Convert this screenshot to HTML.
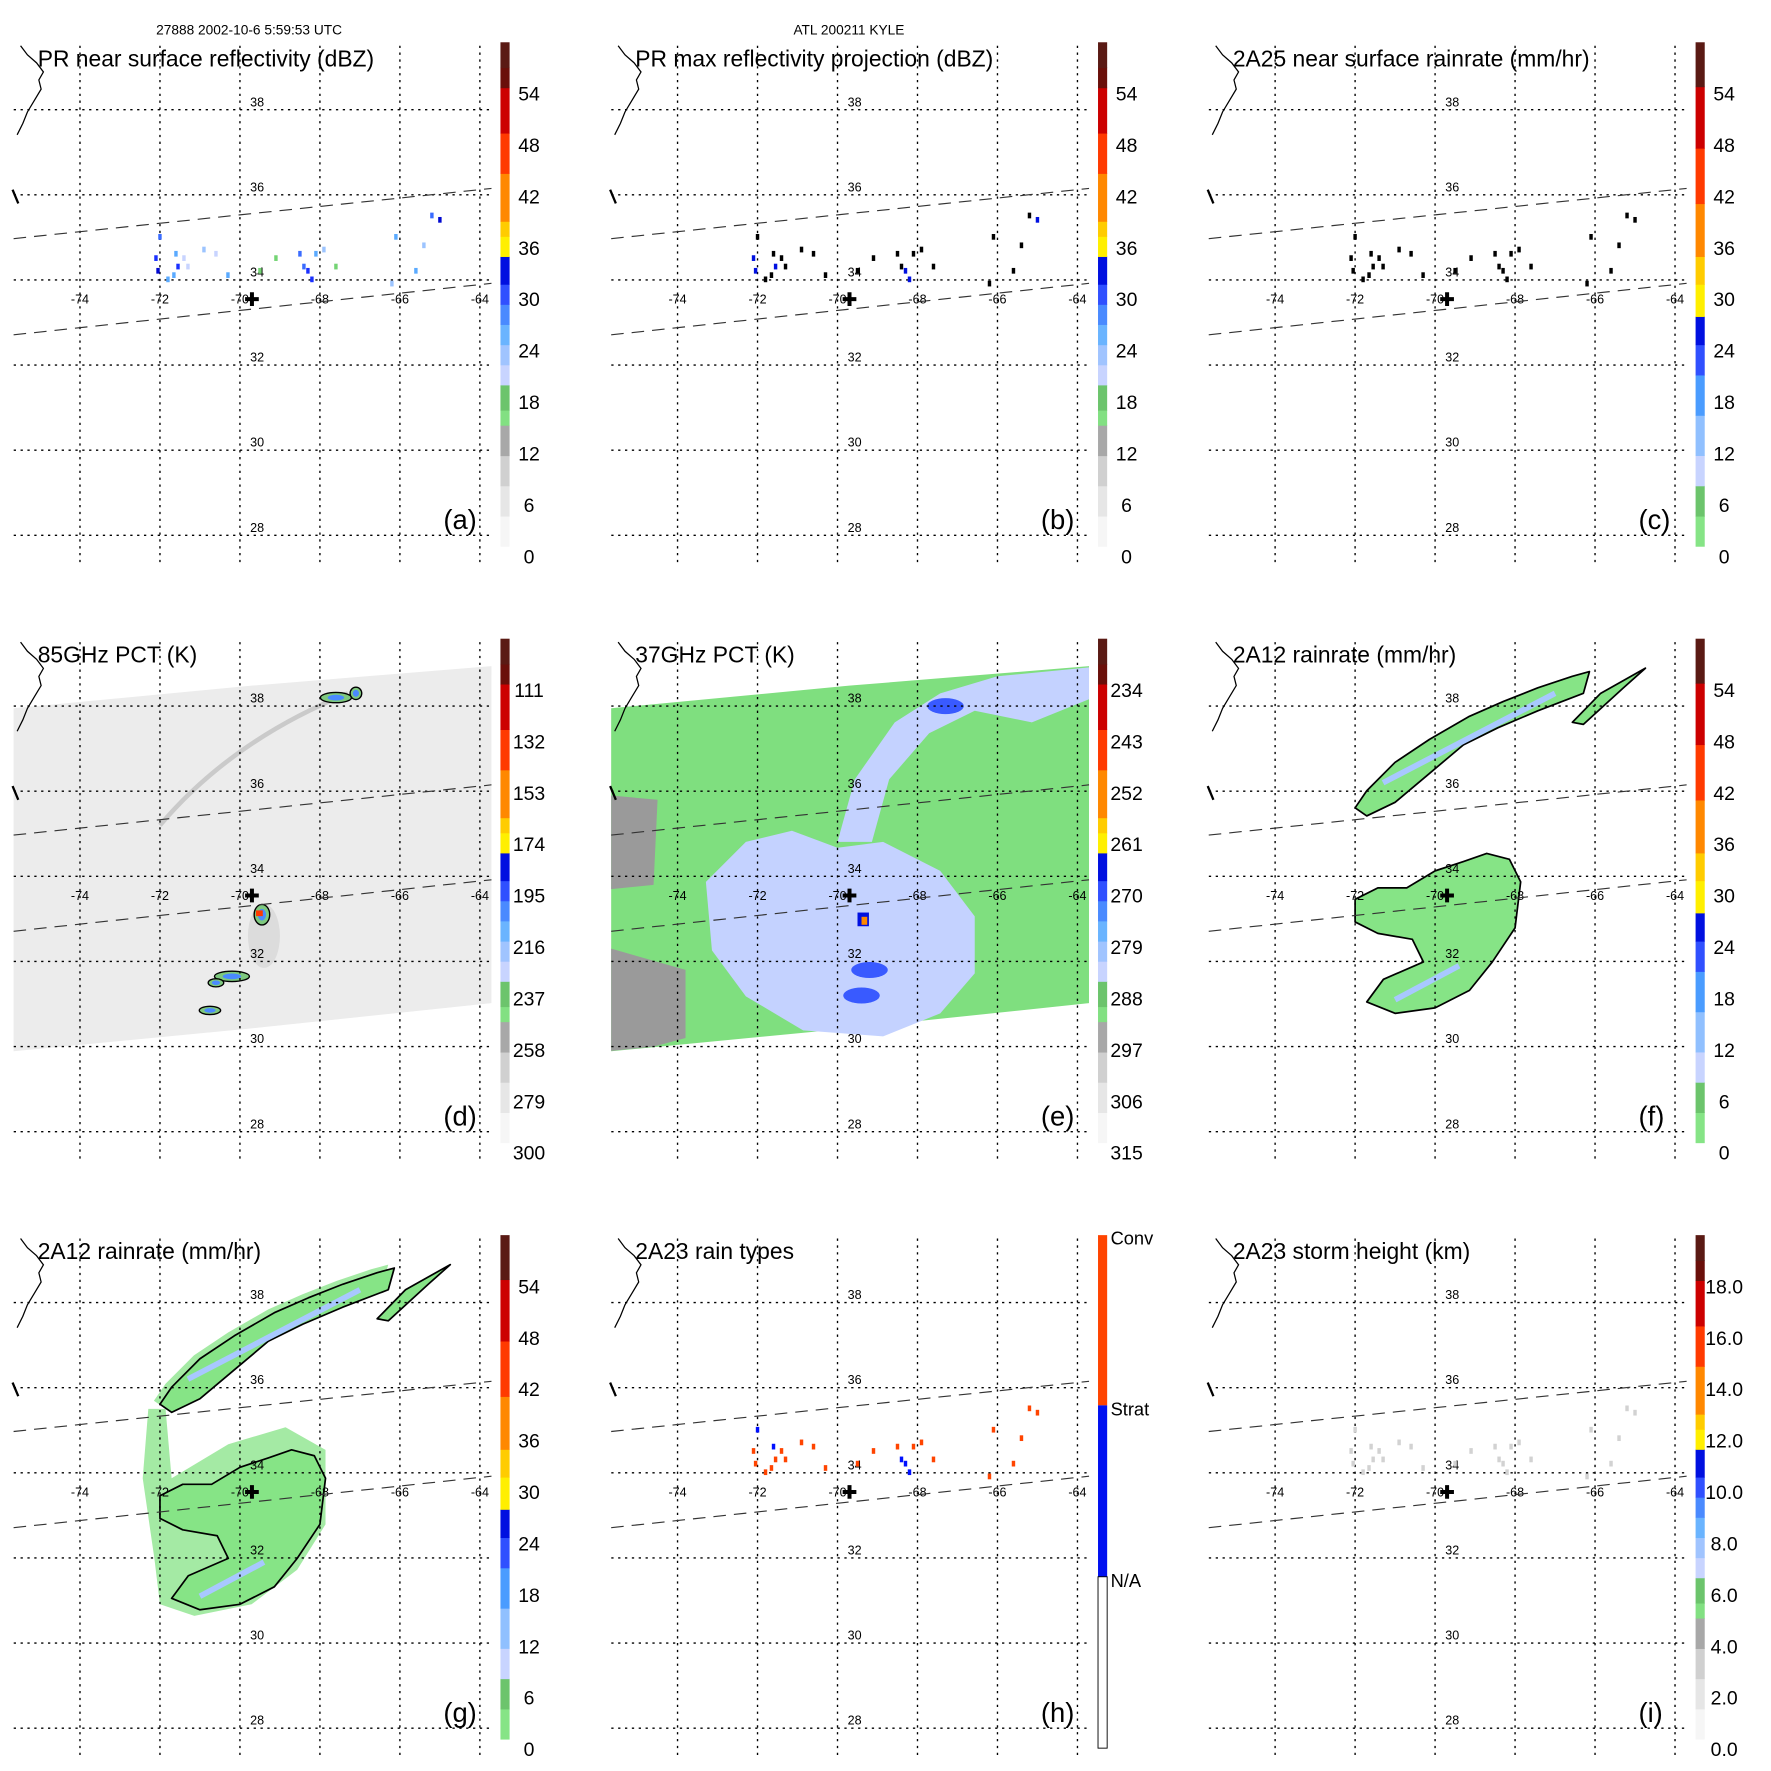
<!DOCTYPE html>
<html><head><meta charset="utf-8"><style>
html,body{margin:0;padding:0;background:#fff;}
svg{display:block;font-family:"Liberation Sans",sans-serif;}
</style></head><body>
<svg id="fig" width="1771" height="1771" viewBox="0 0 1550 1550" xmlns="http://www.w3.org/2000/svg">
<text x="218" y="30" font-size="12" text-anchor="middle">27888 2002-10-6 5:59:53 UTC</text>
<text x="743" y="30" font-size="12" text-anchor="middle">ATL 200211 KYLE</text>
</svg>
<script>
const NS='http://www.w3.org/2000/svg';
const fig=document.getElementById('fig');
// ---- data ----
const lonTicks=[-74,-72,-70,-68,-66,-64];
const latTicks=[38,36,34,32,30,28];
const panelTitles=['PR near surface reflectivity (dBZ)','PR max reflectivity projection (dBZ)','2A25 near surface rainrate (mm/hr)','85GHz PCT (K)','37GHz PCT (K)','2A12 rainrate (mm/hr)','2A12 rainrate (mm/hr)','2A23 rain types','2A23 storm height (km)'];
const panelLetters=['(a)','(b)','(c)','(d)','(e)','(f)','(g)','(h)','(i)'];
const cbLabelsA=['54','48','42','36','30','24','18','12','6','0'];
const cbLabelsC=['54','48','42','36','30','24','18','12','6','0'];
const cbLabelsD=['111','132','153','174','195','216','237','258','279','300'];
const cbLabelsE=['234','243','252','261','270','279','288','297','306','315'];
const cbLabelsI=['18.0','16.0','14.0','12.0','10.0','8.0','6.0','4.0','2.0','0.0'];
const cbLabelsH=['Conv','Strat','N/A'];
const stormCenter=[-69.7,33.55];
const swathUpperLon=[-75.66,-63.71], swathUpperLat=[34.97,36.15];
const swathLowerLon=[-75.66,-63.71], swathLowerLat=[32.71,33.92];
const wideSwathLon=[-75.66,-69.71,-63.71,-63.71,-69.71,-75.66];
const wideSwathLat=[37.95,38.48,38.94,31.02,30.43,29.89];
// PR rain pixels: lon, lat, dBZ
const prLon=[-72.0,-72.1,-72.05,-71.6,-71.55,-71.65,-71.4,-71.3,-71.8,-70.9,-70.6,-69.1,-68.4,-68.3,-68.2,-68.1,-68.5,-67.9,-67.6,-66.1,-65.6,-65.2,-65.0,-65.4,-66.2,-70.3,-69.5];
const prLat=[35.0,34.5,34.2,34.6,34.3,34.1,34.5,34.3,34.0,34.7,34.6,34.5,34.3,34.2,34.0,34.6,34.6,34.7,34.3,35.0,34.2,35.5,35.4,34.8,33.9,34.1,34.2];
const prVal=[27,30,33,26,31,24,20,18,25,22,20,16,28,32,30,25,27,22,17,24,26,29,34,22,21,24,17];
const prType=[1,2,2,1,2,2,2,2,2,2,2,2,1,1,1,2,2,2,2,2,2,2,2,2,2,2,2];
// 2A12 rain bands (lon/lat polygons)
const bandNLon=[-72.0,-71.71,-71.0,-70.14,-69.14,-68.29,-67.43,-66.57,-66.14,-66.29,-67.43,-68.43,-69.29,-70.14,-71.0,-71.71];
const bandNLat=[35.61,36.01,36.68,37.22,37.76,38.11,38.43,38.70,38.81,38.30,37.89,37.49,37.09,36.42,35.74,35.42];
const bandNELon=[-66.57,-65.86,-64.74,-65.29,-66.29];
const bandNELat=[37.62,38.30,38.89,38.43,37.57];
const blobSLon=[-72.0,-71.43,-70.71,-70.0,-69.29,-68.71,-68.14,-67.86,-68.0,-68.57,-69.14,-70.0,-71.0,-71.71,-71.29,-70.29,-70.57,-71.43,-72.0];
const blobSLat=[33.46,33.73,33.73,34.13,34.35,34.54,34.40,33.87,32.79,31.99,31.32,30.91,30.78,31.05,31.58,31.99,32.52,32.66,32.93];
// light-rain halo for 2A12 (g)
const haloLon=[-72.29,-71.86,-71.71,-70.29,-68.86,-67.86,-67.86,-68.57,-69.71,-71.14,-72.0,-72.14,-72.43];
const haloLat=[35.5,35.5,33.87,34.67,35.07,34.54,32.79,31.72,30.91,30.64,30.91,31.99,33.87];
// 37GHz depressed region
const pctBlobLon=[-73.29,-72.29,-71.14,-70.0,-68.86,-67.43,-66.57,-66.57,-67.43,-68.86,-70.86,-72.29,-73.14];
const pctBlobLat=[33.87,34.81,35.07,34.67,34.81,34.13,33.06,31.72,30.78,30.24,30.38,31.18,32.26];
const pctArmLon=[-70.0,-69.57,-68.57,-67.43,-66.0,-63.71,-63.71,-65.14,-66.57,-67.71,-68.71,-69.14];
const pctArmLat=[34.81,36.28,37.62,38.30,38.70,38.91,38.16,37.62,37.89,37.36,36.28,34.81];
const pctDarkLon=[-69.4,-67.3,-69.2], pctDarkLat=[31.2,38.0,31.8];
const pctGrayLon=[-75.66,-73.8,-73.8,-74.6,-75.66], pctGrayLat=[32.3,31.8,30.2,30.0,29.9];
const pctGray2Lon=[-75.66,-74.5,-74.6,-75.66], pctGray2Lat=[35.9,35.8,33.8,33.7];
// 85GHz scattering cells
const iceLon=[-69.45,-67.6,-67.1,-70.2,-70.6,-70.75], iceLat=[33.1,38.2,38.3,31.65,31.5,30.85], iceW=[0.4,0.8,0.3,0.9,0.4,0.55], iceH=[0.5,0.25,0.3,0.25,0.2,0.2];
// ---- helpers ----
const col=[0,523,1046], row=[0,522,1044];
function lonX(p,lon){return col[p%3]+70+(lon+74)*35;}
function latY(p,lat){return row[Math.floor(p/3)]+96+(38-lat)*37.25;}
function mk(tag,attrs,parent){const e=document.createElementNS(NS,tag);for(const k in attrs)e.setAttribute(k,attrs[k]);(parent||fig).appendChild(e);return e;}
function poly(p,lons,lats,fill,stroke,name,g){const pts=lons.map((l,i)=>lonX(p,l).toFixed(1)+','+latY(p,lats[i]).toFixed(1)).join(' ');
 const e=mk('polygon',{points:pts,fill:fill,stroke:stroke||'none','stroke-width':1.5,'stroke-linejoin':'round'},g);
 
 return e;}
function dbzColor(v){if(v<12)return '#bbb';if(v<18)return '#74d474';if(v<21)return '#c8d4ff';if(v<24)return '#9cc4ff';if(v<27)return '#5aaaff';if(v<30)return '#3a6cff';if(v<33)return '#1a30ff';if(v<36)return '#0008d0';if(v<42)return '#ffe000';return '#ff8000';}
const stdSegs=[[0,0.06,'#f6f6f6'],[0.06,0.12,'#e6e6e6'],[0.12,0.18,'#d0d0d0'],[0.18,0.24,'#a8a8a8'],[0.24,0.27,'#82e082'],[0.27,0.32,'#6cc46c'],[0.32,0.36,'#c8d4ff'],[0.36,0.40,'#a0c4ff'],[0.40,0.44,'#6ab4ff'],[0.44,0.48,'#4a8aff'],[0.48,0.52,'#3050ff'],[0.52,0.575,'#0010e0'],[0.575,0.615,'#ffef00'],[0.615,0.645,'#ffcc00'],[0.645,0.74,'#ff8800'],[0.74,0.82,'#ff3a00'],[0.82,0.91,'#cc0000'],[0.91,0.95,'#6a0f0a'],[0.95,1,'#5a1a14']];
const rainSegs=[[0,0.06,'#86e486'],[0.06,0.12,'#6cc46c'],[0.12,0.18,'#c8d4ff'],[0.18,0.26,'#90c0ff'],[0.26,0.34,'#4a9cff'],[0.34,0.40,'#3050ff'],[0.40,0.456,'#0010e0'],[0.456,0.52,'#ffef00'],[0.52,0.575,'#ffcc00'],[0.575,0.68,'#ff8800'],[0.68,0.79,'#ff3a00'],[0.79,0.912,'#cc0000'],[0.912,1,'#5a1a14']];
function colorbar(p,segs,labels){
 const g=mk('g',{});
 
 
 const x0=col[p%3]+438,y0=row[Math.floor(p/3)]+37,h=441;
 if(p===7){
  mk('rect',{x:x0,y:y0,width:8,height:149,fill:'#ff4400'},g);
  mk('rect',{x:x0,y:y0+149,width:8,height:150,fill:'#0010f0'},g);
  mk('rect',{x:x0,y:y0+299,width:8,height:150,fill:'#fff',stroke:'#000','stroke-width':0.8},g);
  labels.forEach((t,i)=>{const e=mk('text',{x:x0+11,y:y0+8+150*i,'font-size':16},g);e.textContent=t;
   
   });
  return;}
 segs.forEach(s=>mk('rect',{x:x0,y:(y0+h-s[1]*h).toFixed(1),width:8,height:((s[1]-s[0])*h+0.5).toFixed(1),fill:s[2]},g));
 labels.forEach((t,i)=>{const e=mk('text',{x:x0+25,y:y0+51+45*i,'font-size':17,'text-anchor':'middle'},g);e.textContent=t;
  
  });
}
function scatter(p,colorFn,name){
 const g=mk('g',{});
 
 
 prLon.forEach((l,i)=>{const c=colorFn(i);if(!c)return;
  const r=mk('rect',{x:(lonX(p,l)-1.5).toFixed(1),y:(latY(p,prLat[i])-3).toFixed(1),width:3,height:5,fill:c},g);
  
  });
}
for(let p=0;p<9;p++){
 const dx=col[p%3],dy=row[Math.floor(p/3)];
 const g=mk('g',{});
 
 
 if(p===3){poly(p,wideSwathLon,wideSwathLat,'#ececec','none','tb85-swath',g);
  const band=mk('path',{d:`M${lonX(p,-72)},${latY(p,35.2)} Q${lonX(p,-70.2)},${latY(p,37.2)} ${lonX(p,-67.3)},${latY(p,38.3)}`,stroke:'#cacaca','stroke-width':4,fill:'none'},g);
  
  
  const gl=mk('ellipse',{cx:lonX(p,-69.4),cy:latY(p,32.6),rx:14,ry:28,fill:'#dcdcdc'},g);
  
  
  iceLon.forEach((l,i)=>{const e=mk('ellipse',{cx:lonX(p,l),cy:latY(p,iceLat[i]),rx:iceW[i]*17,ry:iceH[i]*18,fill:'#7ec87e',stroke:'#000','stroke-width':1.2},g);
   
   
   mk('ellipse',{cx:lonX(p,l),cy:latY(p,iceLat[i]),rx:iceW[i]*9,ry:iceH[i]*10,fill:'#4a8aff'},g);});
  mk('rect',{x:lonX(p,-69.6),y:latY(p,33.2),width:6,height:5,fill:'#ff3a00'},g);}
 if(p===4){poly(p,wideSwathLon,wideSwathLat,'#7fdf7f','none','tb37-swath',g);
  poly(p,pctGrayLon,pctGrayLat,'#9a9a9a','none','warm-sea-region',g);
  poly(p,pctGray2Lon,pctGray2Lat,'#9a9a9a','none','warm-sea-region',g);
  poly(p,pctBlobLon,pctBlobLat,'#c4d2ff','none','rain-emission-region',g);
  poly(p,pctArmLon,pctArmLat,'#c4d2ff','none','rain-emission-arm',g);
  pctDarkLon.forEach((l,i)=>{const e=mk('ellipse',{cx:lonX(p,l),cy:latY(p,pctDarkLat[i]),rx:16,ry:7,fill:'#2a4cff',opacity:0.9},g);
   
   });
  mk('rect',{x:lonX(p,-69.5),y:latY(p,33.15),width:10,height:12,fill:'#0010e0'},g);
  mk('rect',{x:lonX(p,-69.4),y:latY(p,33.05),width:5,height:7,fill:'#ff8800'},g);}
 if(p===5||p===6){
  if(p===6){poly(p,haloLon,haloLat,'#a4eaa4','none','light-rain-halo',g);
   poly(p,bandNLon.map(v=>v-0.15),bandNLat.map(v=>v+0.08),'#a4eaa4','none','light-rain-halo',g);}
  poly(p,bandNLon,bandNLat,'#86e486','#000','rain-band-north',g);
  poly(p,bandNELon,bandNELat,'#86e486','#000','rain-band-northeast',g);
  poly(p,blobSLon,blobSLat,'#86e486','#000','rain-core-south',g);
  const e=mk('path',{d:`M${lonX(p,-71.3)},${latY(p,36.2)} L${lonX(p,-67.0)},${latY(p,38.3)}`,stroke:'#a8c8ff','stroke-width':5,fill:'none'},g);
  
  
  const e2=mk('path',{d:`M${lonX(p,-71.0)},${latY(p,31.1)} L${lonX(p,-69.4)},${latY(p,31.9)}`,stroke:'#a8c8ff','stroke-width':5,fill:'none'},g);
  
  }
 if(p===0)scatter(p,i=>dbzColor(prVal[i]),'pr-reflectivity-pixels');
 if(p===1)scatter(p,i=>prVal[i]>=30?'#0010e0':'#000','pr-max-pixels');
 if(p===2)scatter(p,i=>'#000','pr-rainrate-pixels');
 if(p===7)scatter(p,i=>prType[i]===1?'#0010ff':'#ff4400','rain-type-pixels');
 if(p===8)scatter(p,i=>'#d2d2d2','storm-height-pixels');
 latTicks.forEach(lat=>{const y=latY(p,lat);mk('line',{x1:dx+12,x2:dx+430,y1:y,y2:y,stroke:'#000','stroke-width':1.2,'stroke-dasharray':'2,4'},g);
  const t=mk('text',{x:lonX(p,-69.8)+8,y:y-3,'font-size':11,'text-anchor':'middle'},g);t.textContent=lat;
  
  });
 lonTicks.forEach(lon=>{const x=lonX(p,lon);mk('line',{x1:x,x2:x,y1:dy+40,y2:dy+492,stroke:'#000','stroke-width':1.2,'stroke-dasharray':'2,4'},g);
  const t=mk('text',{x:x,y:latY(p,33.55)+4,'font-size':11,'text-anchor':'middle'},g);t.textContent=lon;
  
  });
 [[swathUpperLon,swathUpperLat],[swathLowerLon,swathLowerLat]].forEach(s=>{const l=mk('line',{x1:lonX(p,s[0][0]),y1:latY(p,s[1][0]),x2:lonX(p,s[0][1]),y2:latY(p,s[1][1]),stroke:'#333','stroke-width':1,'stroke-dasharray':'11,7'},g);
  
  });
 const c=mk('polyline',{points:[[18,40],[24,48],[32,55],[38,63],[34,70],[36,78],[30,88],[24,98],[20,108],[15,118]].map(q=>(dx+q[0])+','+(dy+q[1])).join(' '),fill:'none',stroke:'#000','stroke-width':1.1},g);
 
 
 mk('line',{x1:dx+11,y1:dy+166,x2:dx+16,y2:dy+178,stroke:'#000','stroke-width':2},g);
 const cx=lonX(p,stormCenter[0]),cy=latY(p,stormCenter[1]);
 const sc=mk('path',{d:`M${cx-6},${cy} H${cx+6} M${cx},${cy-6} V${cy+6}`,stroke:'#000','stroke-width':3.5},g);
 
 
 const tt=mk('text',{x:dx+33,y:dy+58,'font-size':20},g);tt.textContent=panelTitles[p];
 
 
 const lt=mk('text',{x:dx+388,y:dy+463,'font-size':24},g);lt.textContent=panelLetters[p];
 
 
 const labs=[cbLabelsA,cbLabelsA,cbLabelsC,cbLabelsD,cbLabelsE,cbLabelsC,cbLabelsC,cbLabelsH,cbLabelsI][p];
 colorbar(p,(p===2||p===5||p===6)?rainSegs:stdSegs,labs);
}
</script>
</body></html>
